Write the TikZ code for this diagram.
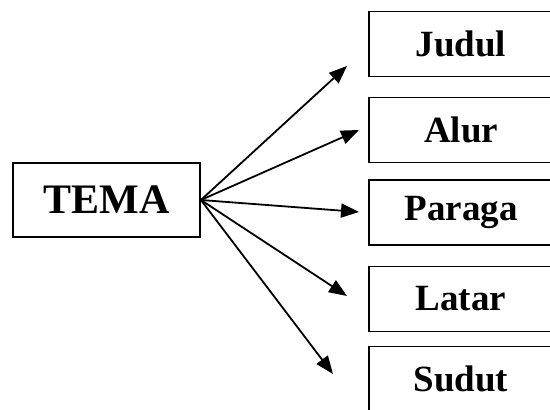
\documentclass[tikz,border=0pt]{standalone}
\usepackage{fontspec}
\setmainfont{Liberation Serif}
\usetikzlibrary{arrows.meta}
\usetikzlibrary{positioning}

\begin{document}
\begin{tikzpicture}[x=1pt,y=1pt,
  box/.style={draw,line width=1.8pt,minimum width=184pt,minimum height=65pt,
    font=\fontsize{37}{40}\selectfont\bfseries},
  arr/.style={-{Triangle[length=18pt,width=14pt]},line width=1.8pt}]
\useasboundingbox (0,0) rectangle (550,410);
\node[box,minimum width=187pt,minimum height=74pt,
  font=\fontsize{42}{46}\selectfont\bfseries] (tema) at (106.5,210) {TEMA};
\node[box] (judul) at (461,366) {Judul};
\node[box] (alur) at (461,280) {Alur};
\node[box] (paraga) at (461,197.5) {Paraga};
\node[box] (latar) at (461,111) {Latar};
\node[box] (sudut) at (461,31) {Sudut};

\coordinate (j) at (347,344);
\coordinate (a) at (359,280);
\coordinate (p) at (359,198);
\coordinate (l) at (347,114);
\coordinate (s) at (333,36);

\draw[arr](tema.east)--(j);
\draw[arr](tema.east)--(a);
\draw[arr](tema.east)--(p);
\draw[arr](tema.east)--(l);
\draw[arr](tema.east)--(s);
\end{tikzpicture}
\end{document}
